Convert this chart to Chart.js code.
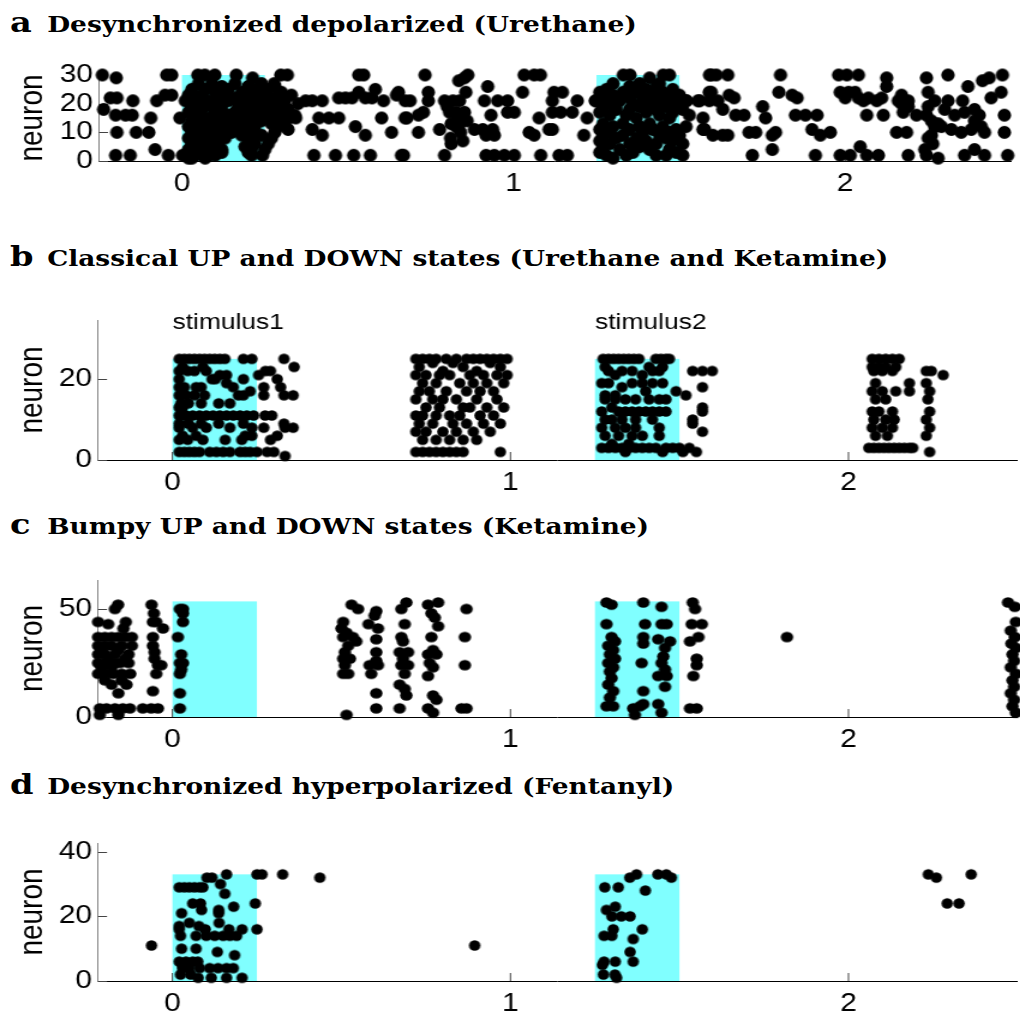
<!DOCTYPE html>
<html lang="en">
<head>
<meta charset="UTF-8">
<title>Spike rasters</title>
<script src="https://cdn.jsdelivr.net/npm/chart.js"></script>
<style>
    body {
        margin: 0;
        width: 1020px;
        height: 1015px;
        overflow: hidden;
        position: relative;
        background: #fff;
    }
    canvas {
        position: absolute;
        left: 0;
    }
    .panel-title {
        position: absolute;
        left: 10px;
        font-family: 'DejaVu Serif', serif;
        font-weight: bold;
        font-size: 22px;
        line-height: 40px;
        white-space: nowrap;
        color: #000;
        transform: scaleX(1.2);
        transform-origin: left top;
    }
    .panel-title .tag {
        display: inline-block;
        width: 31px;
        font-size: 28px;
    }
</style>
</head>
<body>
<div class="panel-title" id="title-a" style="top:3px"></div>
<div class="panel-title" id="title-b" style="top:237px"></div>
<div class="panel-title" id="title-c" style="top:505px"></div>
<div class="panel-title" id="title-d" style="top:765px"></div>

<canvas id="chart-a" width="850" height="151" style="top:55px; width:1020px; height:151px"></canvas>
<canvas id="chart-b" width="854" height="205" style="top:300px; width:1024.8px; height:205px"></canvas>
<canvas id="chart-c" width="854" height="202" style="top:560px; width:1024.8px; height:202px"></canvas>
<canvas id="chart-d" width="854" height="193" style="top:823px; width:1024.8px; height:193px"></canvas>

<script>
// stimulus windows (s)
const stimWindows = [[0, 0.25], [1.25, 1.5]];
const stimLabels = ['stimulus1', 'stimulus2'];
const xTicks = [0, 1, 2];

const panelTags = ['a', 'b', 'c', 'd'];
const panelTitles = [
    'Desynchronized depolarized (Urethane)',
    'Classical UP and DOWN states (Urethane and Ketamine)',
    'Bumpy UP and DOWN states (Ketamine)',
    'Desynchronized hyperpolarized (Fentanyl)'
];

const yTicksA = [0, 10, 20, 30];
const yTicksB = [0, 20];
const yTicksC = [0, 50];
const yTicksD = [0, 20, 40];

// spikes as [time (s), neuron]
const spikesA = [
    [-0.24,30],[-0.198,29],[-0.236,18],[-0.216,22],[-0.196,22],[-0.2,16],[-0.17,16],[-0.15,16],[-0.148,21],
    [-0.196,10],[-0.138,10],[-0.1,10],[-0.094,15],[-0.2,2],[-0.156,2],[-0.081,4],[-0.041,2],[-0.076,21],
    [-0.051,23],[-0.031,23],[-0.046,30],[-0.031,30],[-0.006,15],[0.002,2],[0.02,1],
    [0.048,30],[0.069,30],[0.099,30],[0.164,30],[0.213,29],
    [0.05,27],[0.09,27],[0.16,27],[0.24,27],[0.278,27],[0.12,26],[0.2,26],[0.28,26],
    [0.03,25],[0.07,25],[0.14,25],[0.22,25],[0.26,25],[0.1,24],[0.18,24],[0.25,24],[0.3,24],
    [0.02,23],[0.06,23],[0.13,23],[0.21,23],[0.33,23],[0.04,22],[0.11,22],[0.16,22],[0.23,22],[0.28,22],
    [0.01,21],[0.08,21],[0.14,21],[0.19,21],[0.26,21],[0.31,21],[0.05,20],[0.12,20],[0.22,20],[0.29,20],[0.35,20],
    [0.03,19],[0.09,19],[0.17,19],[0.24,19],[0.06,18],[0.12,18],[0.2,18],[0.27,18],[0.32,18],
    [0.02,17],[0.1,17],[0.16,17],[0.23,17],[0.3,17],[0.05,16],[0.14,16],[0.19,16],[0.26,16],[0.34,16],
    [0.08,15],[0.12,15],[0.21,15],[0.28,15],[0.03,14],[0.1,14],[0.17,14],[0.24,14],[0.31,14],
    [0.06,13],[0.14,13],[0.2,13],[0.27,13],[0.02,12],[0.09,12],[0.16,12],[0.22,12],[0.29,12],
    [0.05,11],[0.12,11],[0.19,11],[0.32,11],[0.03,10],[0.08,10],[0.15,10],[0.21,10],[0.28,10],
    [0.06,9],[0.11,9],[0.18,9],[0.24,9],[0.02,8],[0.09,8],[0.13,8],[0.2,8],[0.27,8],
    [0.05,7],[0.11,7],[0.21,7],[0.03,6],[0.08,6],[0.22,6],[0.26,6],[0.06,5],[0.11,5],[0.19,5],
    [0.02,4],[0.09,4],[0.12,4],[0.21,4],[0.25,4],[0.05,3],[0.12,3],[0.2,3],
    [0.01,2],[0.04,2],[0.08,2],[0.1,2],[0.21,2],[0.243,2],[0.03,1],[0.07,1],
    [0.298,30],[0.318,30],[0.533,30],[0.548,30],[0.533,24],[0.583,25],[0.653,24],
    [0.373,21],[0.393,21],[0.423,21],[0.473,22],[0.493,22],[0.513,22],[0.553,22],[0.573,22],[0.608,21],[0.647,23],[0.673,21],
    [0.343,15],[0.413,15],[0.443,15],[0.473,15],[0.602,15],[0.673,15],[0.323,15],[0.3,18],
    [0.393,11],[0.423,9],[0.523,12],[0.553,9],[0.632,10],
    [0.398,2],[0.463,2],[0.518,2],[0.568,2],[0.662,2],
    [0.733,30],[0.852,29],[0.862,30],[0.835,28],[1.032,30],[1.062,30],[1.081,30],[0.922,26],
    [0.743,24],[0.856,24],[1.027,24],[1.122,24],[1.147,24],
    [0.688,21],[0.743,21],[0.792,21],[0.817,21],[0.837,21],[0.912,21],[0.952,21],[0.982,21],[1.117,21],[1.192,21],[1.246,21],
    [0.678,15],[0.713,16],[0.728,17],[0.807,17],[0.827,17],[0.852,17],[0.932,16],[0.982,17],[1.002,17],
    [1.077,15],[1.117,17],[1.142,17],[1.177,17],[1.222,15],
    [0.812,13],[0.837,13],[0.827,12],[0.777,11],[0.882,11],[0.907,11],[0.937,11],[1.107,11],[1.117,11],
    [0.713,10],[0.917,9],[0.942,9],[1.047,10],[1.062,9],[1.212,9],
    [0.812,6],[0.847,7],[0.8,19],[0.83,15],[0.84,10],[0.81,8],[0.86,14],
    [0.668,2],[0.792,2],[0.917,2],[0.942,2],[0.972,2],[1.002,2],[1.082,2],[1.137,2],[1.162,2],
    [1.331,30],[1.351,30],[1.41,29],[1.451,30],[1.47,30],[1.431,26],
    [1.3,27],[1.38,27],[1.44,27],[1.35,26],[1.28,25],[1.4,25],[1.48,25],
    [1.26,24],[1.33,24],[1.37,24],[1.45,24],[1.3,23],[1.42,23],[1.5,23],
    [1.27,22],[1.35,22],[1.39,22],[1.47,22],[1.25,21],[1.32,21],[1.44,21],[1.52,21],
    [1.29,20],[1.36,20],[1.41,20],[1.49,20],[1.27,19],[1.38,19],[1.46,19],
    [1.31,18],[1.35,18],[1.43,18],[1.51,18],[1.26,17],[1.4,17],[1.48,17],
    [1.29,16],[1.34,16],[1.44,16],[1.53,16],[1.37,15],[1.47,15],
    [1.27,13],[1.33,13],[1.41,13],[1.3,12],[1.38,12],[1.45,12],[1.52,12],
    [1.26,11],[1.35,11],[1.42,11],[1.49,11],[1.29,10],[1.39,10],[1.47,10],
    [1.27,9],[1.33,9],[1.44,9],[1.5,9],[1.31,8],[1.37,8],[1.46,8],[1.26,7],[1.4,7],[1.48,7],
    [1.29,6],[1.35,6],[1.43,6],[1.51,6],[1.27,5],[1.38,5],[1.32,4],[1.41,4],[1.47,4],
    [1.26,3],[1.36,3],[1.49,3],[1.28,2],[1.34,2],[1.43,2],[1.46,2],[1.51,2],[1.3,1],
    [1.521,21],[1.556,21],[1.59,21],[1.59,24],[1.596,30],[1.571,15],[1.571,11],[1.601,9],
    [1.591,30],[1.611,30],[1.646,30],[1.805,30],[1.98,30],[2.005,30],[2.04,30],[2.125,29],[2.245,29],[2.31,30],[2.414,28],[2.434,29],[2.474,30],
    [1.596,24],[1.65,23],[1.665,22],[1.8,24],[1.84,23],[1.855,22],[1.985,24],[2.01,24],[2.03,24],[2.0,22],[2.04,22],[2.07,22],[2.11,22],
    [2.125,26],[2.37,26],[2.25,24],[2.17,23],[2.44,22],[2.47,24],
    [1.561,21],[1.616,21],[1.751,19],[2.055,21],[2.095,21],[2.16,21],[2.19,21],[2.27,21],[2.31,21],[2.354,21],[2.39,18],
    [1.631,18],[1.67,16],[1.695,16],[1.76,15],[1.85,16],[1.88,16],[1.915,16],[2.065,16],[2.115,16],[2.175,17],[2.215,16],[2.245,16],[2.33,16],[2.404,16],[2.48,16],
    [1.576,11],[1.63,9],[1.646,9],[1.71,10],[1.73,10],[1.79,10],[1.78,9],[1.9,11],[1.925,9],[1.955,10],[2.155,10],[2.185,10],
    [2.26,9],[2.29,12],[2.32,11],[2.35,10],[2.38,11],[2.42,10],[2.48,10],[2.264,6],[1.78,4],
    [1.72,2],[1.91,2],[1.985,2],[2.015,2],[2.045,5],[2.065,2],[2.1,2],[2.19,2],[2.245,2],[2.28,1],[2.36,2],[2.39,4],[2.42,2],[2.49,2],
    [2.25,19],[2.26,14],[2.27,12],[2.25,8],[2.24,4],[2.3,18],[2.28,13],[2.17,20],[2.19,19],[2.36,17],[2.39,14],[2.41,12]
];

const spikesB = [
    // first stimulus
    [0.02,25],[0.035,25],[0.05,25],[0.065,25],[0.08,25],[0.095,25],[0.11,25],[0.125,25],[0.14,25],[0.155,25],[0.21,25],[0.235,25],[0.33,25],
    [0.36,23],[0.03,23],[0.09,23],[0.02,22],[0.045,22],[0.065,22],[0.1,22],[0.275,22],[0.29,22],[0.16,21],[0.14,21],[0.255,21],
    [0.02,20],[0.117,20],[0.127,20],[0.21,20],[0.31,20],[0.16,19],[0.18,18],
    [0.02,18],[0.035,18],[0.07,18],[0.085,18],[0.23,17],[0.27,18],[0.32,18],
    [0.02,16],[0.04,16],[0.065,16],[0.095,16],[0.195,16],[0.21,16],[0.27,16],[0.33,16],[0.357,16],
    [0.025,14],[0.047,14],[0.085,14],[0.137,14],[0.17,14],[0.02,13],[0.03,13],
    [0.02,11],[0.04,11],[0.06,11],[0.08,11],[0.1,11],[0.12,11],[0.14,11],[0.16,11],[0.18,11],[0.2,11],[0.22,11],[0.24,11],[0.274,11],[0.294,11],
    [0.02,9],[0.047,9],[0.085,9],[0.137,9],[0.21,9],[0.33,9],
    [0.02,8],[0.06,8],[0.1,8],[0.17,8],[0.235,8],[0.27,8],[0.333,8],[0.357,8],
    [0.03,6],[0.07,6],[0.215,6],[0.235,6],[0.31,6],[0.02,5],[0.045,5],[0.09,5],[0.156,5],[0.205,5],[0.29,5],
    [0.02,2],[0.035,2],[0.05,2],[0.065,2],[0.08,2],[0.11,2],[0.13,2],[0.15,2],[0.17,2],[0.2,2],[0.215,2],[0.23,2],[0.25,2],[0.28,2],[0.3,2],[0.333,1],
    // spontaneous UP state
    [0.72,25],[0.74,25],[0.76,25],[0.78,25],[0.81,25],[0.84,25],[0.87,25],[0.89,25],[0.91,25],[0.93,25],[0.95,25],[0.97,25],[0.99,25],
    [0.77,24],[0.83,24],[0.94,24],[0.73,23],[0.86,23],[0.97,23],[0.8,22],[0.9,22],
    [0.72,21],[0.75,21],[0.79,21],[0.82,21],[0.88,21],[0.92,21],[0.96,21],[0.99,21],
    [0.74,19],[0.78,19],[0.85,19],[0.89,19],[0.93,19],[0.98,19],
    [0.73,17],[0.76,17],[0.81,17],[0.87,17],[0.91,17],[0.95,17],
    [0.72,15],[0.77,15],[0.8,15],[0.84,15],[0.9,15],[0.96,15],
    [0.75,13],[0.79,13],[0.86,13],[0.88,13],[0.93,13],[0.98,13],
    [0.72,11],[0.74,11],[0.78,11],[0.82,11],[0.85,11],[0.91,11],[0.95,11],
    [0.73,9],[0.77,9],[0.83,9],[0.87,9],[0.92,9],[0.97,9],
    [0.72,7],[0.75,7],[0.8,7],[0.84,7],[0.89,7],[0.94,7],
    [0.74,5],[0.78,5],[0.82,5],[0.86,5],[0.9,5],
    [0.72,2],[0.74,2],[0.76,2],[0.78,2],[0.8,2],[0.82,2],[0.84,2],[0.86,2],[0.97,2],
    // second stimulus
    [1.274,25],[1.29,25],[1.305,25],[1.32,25],[1.335,25],[1.35,25],[1.365,25],[1.38,25],[1.43,25],[1.445,25],[1.46,25],[1.47,25],
    [1.28,23],[1.41,23],[1.45,23],[1.29,22],[1.33,22],[1.36,22],[1.42,22],[1.44,22],[1.539,22],[1.568,22],[1.597,22],
    [1.31,21],[1.39,21],[1.27,19],[1.29,19],[1.36,19],[1.39,19],[1.42,19],[1.45,19],
    [1.568,18],[1.33,18],[1.49,17],[1.4,17],[1.519,16],[1.28,16],[1.31,16],
    [1.28,15],[1.31,15],[1.34,15],[1.37,15],[1.41,15],[1.44,15],[1.46,15],[1.568,13],[1.3,13],
    [1.568,12],[1.27,12],[1.32,12],[1.34,12],[1.36,12],[1.38,12],[1.4,12],[1.42,12],[1.44,12],[1.46,12],
    [1.539,10],[1.28,10],[1.3,10],[1.33,10],[1.37,10],[1.42,10],[1.539,9],
    [1.27,8],[1.31,8],[1.34,8],[1.37,8],[1.44,8],[1.568,7],[1.28,6],[1.32,6],[1.36,6],[1.39,6],[1.44,6],[1.3,4],[1.35,4],
    [1.27,3],[1.29,3],[1.31,3],[1.33,3],[1.35,3],[1.37,3],[1.39,3],[1.41,3],[1.43,3],[1.46,3],[1.48,3],[1.5,3],[1.529,3],
    [1.55,2],[1.34,2],[1.45,2],[1.51,2],
    // late UP state
    [2.07,25],[2.09,25],[2.11,25],[2.13,25],[2.15,25],[2.07,23],[2.09,23],[2.11,23],[2.14,23],
    [2.075,22],[2.1,22],[2.13,22],[2.23,22],[2.245,22],[2.28,21],[2.08,19],[2.18,19],[2.23,19],
    [2.07,17],[2.1,17],[2.14,17],[2.18,17],[2.24,17],[2.08,15],[2.11,15],[2.235,15],
    [2.07,12],[2.09,12],[2.13,12],[2.24,12],[2.075,10],[2.11,10],[2.135,10],[2.23,10],
    [2.07,8],[2.1,8],[2.13,8],[2.24,8],[2.08,6],[2.115,6],[2.23,6],
    [2.06,3],[2.075,3],[2.09,3],[2.105,3],[2.12,3],[2.135,3],[2.15,3],[2.165,3],[2.18,3],[2.19,3],[2.24,2]
];

const spikesC = [
    [-0.22,44],[-0.19,43],[-0.161,52],[-0.17,50],[-0.138,44],[-0.145,41],
    [-0.22,37],[-0.2,37],[-0.18,37],[-0.16,37],[-0.14,37],[-0.12,37],
    [-0.22,33],[-0.2,33],[-0.18,33],[-0.15,33],[-0.12,33],[-0.21,31],[-0.16,31],
    [-0.22,29],[-0.2,29],[-0.17,29],[-0.13,29],[-0.19,27],[-0.14,27],
    [-0.22,25],[-0.2,25],[-0.17,25],[-0.155,25],[-0.13,25],[-0.21,23],[-0.18,23],
    [-0.22,20],[-0.2,20],[-0.175,20],[-0.15,20],[-0.125,20],[-0.2,17],[-0.15,17],
    [-0.18,15],[-0.136,15],[-0.16,11],
    [-0.215,4],[-0.195,4],[-0.17,4],[-0.147,4],[-0.126,4],[-0.215,1],[-0.16,1],
    [-0.062,52],[-0.055,48],[-0.058,44],[-0.048,44],[-0.028,41],[-0.058,37],[-0.058,33],[-0.053,30],[-0.053,27],
    [-0.043,24],[-0.033,24],[-0.048,20],[-0.058,12],[-0.088,4],[-0.063,4],[-0.043,4],
    [0.022,50],[0.031,50],[0.031,48],[0.031,44],[0.016,37],[0.026,29],[0.022,25],[0.031,25],[0.026,22],[0.022,20],[0.022,11],[0.022,4],
    [0.53,52],[0.549,50],[0.505,44],[0.5,41],[0.515,39],[0.505,37],[0.534,37],[0.544,35],[0.52,33],[0.51,30],
    [0.505,27],[0.525,27],[0.51,24],[0.505,20],[0.52,20],[0.515,1],
    [0.603,49],[0.598,47],[0.58,43],[0.608,41],[0.603,36],[0.603,30],[0.603,26],[0.583,24],[0.608,24],[0.588,20],[0.603,11],[0.603,4],
    [0.692,53],[0.677,50],[0.687,43],[0.677,37],[0.682,35],[0.672,30],[0.697,30],[0.682,27],[0.677,24],[0.697,24],
    [0.687,20],[0.672,15],[0.687,13],[0.692,10],[0.672,4],
    [0.786,53],[0.756,52],[0.766,48],[0.776,46],[0.786,42],[0.766,37],[0.771,31],[0.756,29],[0.781,29],[0.761,25],
    [0.771,23],[0.756,19],[0.771,10],[0.781,8],[0.756,4],[0.771,2],
    [0.87,50],[0.865,37],[0.865,24],[0.855,4],[0.87,4],
    [1.284,53],[1.299,52],[1.284,43],[1.299,37],[1.309,35],[1.289,33],[1.304,31],[1.294,29],[1.309,27],[1.289,25],
    [1.304,23],[1.294,21],[1.299,18],[1.289,15],[1.304,12],[1.294,9],[1.284,5],[1.304,5],
    [1.393,53],[1.398,43],[1.393,37],[1.393,34],[1.388,25],[1.393,12],[1.393,6],[1.363,4],[1.368,1],[1.383,5],
    [1.447,51],[1.447,43],[1.462,43],[1.437,36],[1.472,35],[1.457,32],[1.452,28],[1.447,25],[1.457,22],[1.437,19],
    [1.462,19],[1.457,14],[1.437,6],[1.447,2],
    [1.539,53],[1.546,50],[1.536,43],[1.566,43],[1.556,37],[1.531,35],[1.551,27],[1.551,24],[1.541,19],[1.531,4],[1.551,4],
    [1.818,37],
    [2.472,53],[2.492,51],[2.495,44],[2.48,40],[2.492,37],[2.482,34],[2.495,32],[2.485,29],[2.49,26],[2.48,23],
    [2.495,20],[2.485,17],[2.49,14],[2.48,11],[2.49,8],[2.485,5],[2.495,2]
];

const spikesD = [
    [-0.062,11],[0.894,11],[0.326,33],[0.436,32],[0.25,33],[0.265,33],[0.102,32],[0.117,32],[0.16,33],[0.142,30],[0.155,27],
    [0.02,29],[0.035,29],[0.05,29],[0.065,29],[0.08,29],[0.09,29],
    [0.06,24],[0.083,24],[0.086,22],[0.181,23],[0.245,24],[0.027,21],[0.137,21],[0.137,22],[0.138,18],
    [0.02,17],[0.05,18],[0.078,17],[0.097,16],[0.02,16],[0.024,14],
    [0.07,14],[0.1,14],[0.125,14],[0.15,14],[0.17,14],[0.19,14],[0.167,16],[0.206,16],[0.25,16],
    [0.027,10],[0.07,10],[0.133,9],[0.184,8],
    [0.02,6],[0.04,6],[0.06,6],[0.075,6],[0.03,4],[0.03,5],
    [0.05,4],[0.08,4],[0.11,4],[0.135,4],[0.16,4],[0.18,4],
    [0.024,2],[0.054,2],[0.076,1],[0.115,1],[0.16,1],[0.206,1],
    [1.279,29],[1.319,29],[1.353,32],[1.373,33],[1.399,28],[1.436,33],[1.461,33],[1.476,32],
    [1.284,22],[1.31,23],[1.3,20],[1.328,20],[1.354,20],[1.304,16],[1.277,14],[1.3,14],[1.39,16],[1.363,13],
    [1.354,9],[1.277,6],[1.31,6],[1.363,6],[1.272,5],[1.275,2],[1.309,2],[1.314,1],
    [2.236,33],[2.26,32],[2.363,33],[2.292,24],[2.327,24]
];

// the figure is drawn 1.2x wider than tall, canvases are stretched by CSS
const STRETCH = 1.2;

function makeDot(wPage, hPage) {
    const rx = wPage / 2 / STRETCH, ry = hPage / 2;
    const c = document.createElement('canvas');
    c.width = Math.ceil(rx * 2) + 2;
    c.height = Math.ceil(ry * 2) + 2;
    const g = c.getContext('2d');
    g.fillStyle = '#000';
    g.beginPath();
    g.ellipse(c.width / 2, c.height / 2, rx, ry, 0, 0, Math.PI * 2);
    g.fill();
    return c;
}

// cyan stimulus boxes, inward tick marks, stimulus captions
const rasterDecor = {
    id: 'rasterDecor',
    beforeDraw(chart, args, opts) {
        const {ctx, scales: {x, y}} = chart;
        ctx.save();
        ctx.fillStyle = '#80ffff';
        stimWindows.forEach(([t0, t1]) => {
            const l = x.getPixelForValue(t0), r = x.getPixelForValue(t1);
            const top = y.getPixelForValue(opts.stimTop), bot = y.getPixelForValue(0);
            ctx.fillRect(l, top, r - l, bot - top);
        });
        ctx.restore();
    },
    beforeDatasetsDraw(chart, args, opts) {
        const {ctx, chartArea, scales: {x, y}} = chart;
        ctx.save();
        ctx.strokeStyle = '#444';
        ctx.lineWidth = 1;
        ctx.beginPath();
        x.ticks.forEach(t => {
            const px = x.getPixelForValue(t.value);
            ctx.moveTo(px, chartArea.bottom);
            ctx.lineTo(px, chartArea.bottom - 8);
        });
        y.ticks.forEach(t => {
            const py = Math.round(y.getPixelForValue(t.value)) + 0.5;
            ctx.moveTo(chartArea.left, py);
            ctx.lineTo(chartArea.left + 7.5, py);
        });
        ctx.stroke();
        if (opts.labels) {
            ctx.fillStyle = '#000';
            ctx.font = '22px "Liberation Sans"';
            ctx.textBaseline = 'alphabetic';
            opts.labels.forEach((s, i) => {
                ctx.fillText(s, x.getPixelForValue(stimWindows[i][0]), y.getPixelForValue(opts.labelY));
            });
        }
        ctx.restore();
    }
};

function rasterChart(id, spikes, cfg) {
    const dot = makeDot(cfg.dotW, cfg.dotH);
    return new Chart(document.getElementById(id), {
        type: 'scatter',
        data: {
            datasets: [{
                data: spikes.map(([t, n]) => ({x: t, y: n})),
                pointStyle: dot,
                pointRadius: cfg.dotH / 2,
                clip: false
            }]
        },
        options: {
            responsive: false,
            animation: false,
            devicePixelRatio: 1,
            events: [],
            layout: {padding: {top: cfg.padTop, right: cfg.padRight, left: 0, bottom: 0}},
            plugins: {
                legend: {display: false},
                tooltip: {enabled: false},
                rasterDecor: {stimTop: cfg.stimTop, labels: cfg.labels, labelY: cfg.labelY}
            },
            scales: {
                x: {
                    type: 'linear',
                    min: cfg.xMin,
                    max: 2.5,
                    afterBuildTicks: s => { s.ticks = xTicks.map(v => ({value: v})); },
                    afterFit: s => { s.height = cfg.xAxisH; },
                    grid: {display: false, drawTicks: false},
                    border: {display: true, color: '#000', width: 1},
                    ticks: {
                        color: '#000',
                        padding: 8,
                        autoSkip: false,
                        maxRotation: 0,
                        font: {family: 'Liberation Sans', size: 25}
                    }
                },
                y: {
                    type: 'linear',
                    min: 0,
                    max: cfg.yMax,
                    afterBuildTicks: s => { s.ticks = cfg.yTicks.map(v => ({value: v})); },
                    afterFit: s => { s.width = cfg.yAxisW; },
                    grid: {display: false, drawTicks: false},
                    border: {display: true, color: '#808080', width: 1},
                    ticks: {
                        color: '#000',
                        padding: 5,
                        autoSkip: false,
                        font: {family: 'Liberation Sans', size: 25}
                    },
                    title: {
                        display: true,
                        text: 'neuron',
                        color: '#000',
                        padding: {top: 10, bottom: 0},
                        font: {family: 'Liberation Sans', size: 28}
                    }
                }
            }
        },
        plugins: [rasterDecor]
    });
}

panelTags.forEach((tag, i) => {
    const el = document.getElementById('title-' + tag);
    el.innerHTML = '<span class="tag">' + tag + '</span>' + panelTitles[i];
});

rasterChart('chart-a', spikesA, {
    xMin: -0.25, yMax: 30, yTicks: yTicksA, stimTop: 30,
    padTop: 15, padRight: 2.1, yAxisW: 82.5, xAxisH: 45, dotW: 13.5, dotH: 13
});
rasterChart('chart-b', spikesB, {
    xMin: -0.22, yMax: 34.6, yTicks: yTicksB, stimTop: 25, labels: stimLabels, labelY: 32.3,
    padTop: 18, padRight: 0, yAxisW: 81.7, xAxisH: 45, dotW: 11.5, dotH: 10.5
});
rasterChart('chart-c', spikesC, {
    xMin: -0.22, yMax: 63.4, yTicks: yTicksC, stimTop: 53.5,
    padTop: 15, padRight: 0, yAxisW: 81.7, xAxisH: 45, dotW: 12.5, dotH: 10.5
});
rasterChart('chart-d', spikesD, {
    xMin: -0.22, yMax: 42.7, yTicks: yTicksD, stimTop: 33,
    padTop: 15, padRight: 0, yAxisW: 81.7, xAxisH: 35, dotW: 11.5, dotH: 10.5
});
</script>
</body>
</html>
